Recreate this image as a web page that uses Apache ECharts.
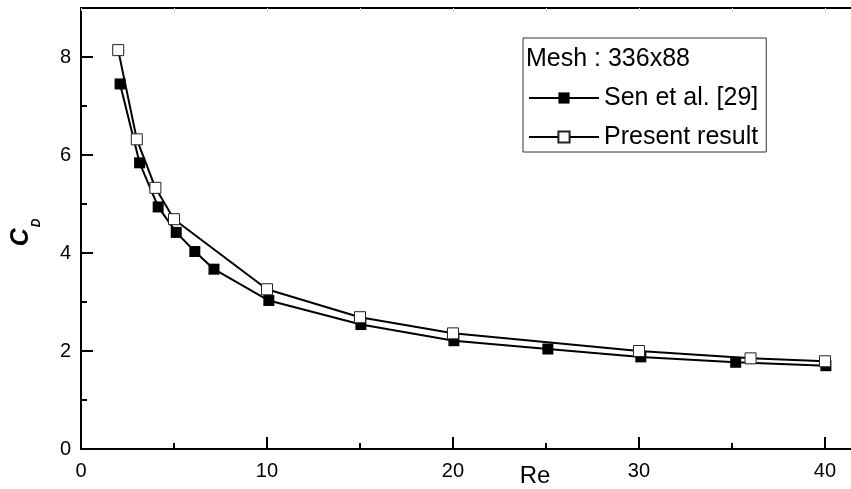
<!DOCTYPE html>
<html>
<head>
<meta charset="utf-8">
<script src="https://cdn.jsdelivr.net/npm/echarts@6/dist/echarts.min.js"></script>
<style>
html,body{margin:0;padding:0;background:#fff;}
#chart{width:851px;height:489px;}
</style>
</head>
<body>
<div id="chart"></div>
<script>
// Data
const seriesNames = ['Sen et al. [29]', 'Present result'];
const legendTitle = 'Mesh : 336x88';
const reSen = [2.1, 3.15, 4.15, 5.12, 6.12, 7.15, 10.1, 15.05, 20.05, 25.1, 30.1, 35.2, 40.05];
const cdSen = [7.45, 5.84, 4.94, 4.42, 4.03, 3.67, 3.03, 2.54, 2.21, 2.04, 1.88, 1.77, 1.70];
const rePresent = [2, 3, 4, 5, 10, 15, 20, 30, 36, 40];
const cdPresent = [8.14, 6.32, 5.33, 4.69, 3.26, 2.69, 2.36, 2.00, 1.85, 1.79];
const xTicks = [0, 10, 20, 30, 40];
const xMinorTicks = [5, 15, 25, 35];
const yTicks = [0, 2, 4, 6, 8];
const yMinorTicks = [1, 3, 5, 7];
const xName = 'Re';

const FONT = '"Liberation Sans", Arial, Helvetica, sans-serif';
const pairs = (xs, ys) => xs.map((x, i) => [x, ys[i]]);

const chart = echarts.init(document.getElementById('chart'), null, {renderer: 'canvas'});
const xMax = 41.4, yMax = 9;
const option = {
  animation: false,
  backgroundColor: '#fff',
  title: {
    text: legendTitle, left: 526, top: 44, padding: 0,
    textStyle: {fontFamily: FONT, fontSize: 25, fontWeight: 'normal', color: '#000', lineHeight: 30}
  },
  legend: {
    orient: 'vertical', left: 523, top: 38, padding: [45, 8, 0, 5],
    itemGap: 9, itemWidth: 70, itemHeight: 14,
    borderColor: '#333', borderWidth: 1, selectedMode: false,
    textStyle: {fontFamily: FONT, fontSize: 25, lineHeight: 30, color: '#000'},
    data: seriesNames
  },
  grid: {left: 81, top: 8, right: 0, bottom: 40, containLabel: false, outerBoundsMode: 'none'},
  xAxis: [
    {
      type: 'value', position: 'bottom', min: 0, max: xMax, interval: 10,
      name: xName, nameLocation: 'middle', nameGap: 15, nameMoveOverlap: false,
      nameTextStyle: {fontFamily: FONT, fontSize: 24, color: '#000', padding: [0, 0, 0, 138]},
      axisLine: {show: true, lineStyle: {color: '#000', width: 2}},
      axisTick: {show: true, inside: true, length: 12, customValues: xTicks, lineStyle: {color: '#000', width: 2}},
      axisLabel: {fontFamily: FONT, fontSize: 20, color: '#000', margin: 12, customValues: xTicks},
      splitLine: {show: false}
    },
    {
      type: 'value', position: 'bottom', min: 0, max: xMax, interval: 5,
      axisLine: {show: false},
      axisTick: {show: true, inside: true, length: 6, customValues: xMinorTicks, lineStyle: {color: '#000', width: 2}},
      axisLabel: {show: false},
      splitLine: {show: false}
    },
    {
      type: 'value', position: 'top', min: 0, max: xMax, interval: 5,
      axisLine: {show: true, lineStyle: {color: '#000', width: 2}},
      axisTick: {show: true, inside: true, length: 3, customValues: xMinorTicks.concat(xTicks), lineStyle: {color: '#ddd', width: 1}},
      axisLabel: {show: false},
      splitLine: {show: false}
    }
  ],
  yAxis: [
    {
      type: 'value', position: 'left', min: 0, max: yMax, interval: 2,
      name: '{c|C}{d|D}', nameLocation: 'middle', nameGap: 47, nameMoveOverlap: false,
      nameTextStyle: {
        color: '#000',
        rich: {
          c: {fontFamily: FONT, fontSize: 25, fontWeight: 'bold', fontStyle: 'italic', color: '#000', lineHeight: 25, verticalAlign: 'top'},
          d: {fontFamily: FONT, fontSize: 12, fontWeight: 'bold', fontStyle: 'italic', color: '#000', lineHeight: 12, verticalAlign: 'top', padding: [22, 8, 0, 1]}
        }
      },
      axisLine: {show: true, lineStyle: {color: '#000', width: 2}},
      axisTick: {show: true, inside: true, length: 12, customValues: yTicks, lineStyle: {color: '#000', width: 2}},
      axisLabel: {fontFamily: FONT, fontSize: 20, color: '#000', margin: 10, customValues: yTicks},
      splitLine: {show: false}
    },
    {
      type: 'value', position: 'left', min: 0, max: yMax, interval: 1,
      axisLine: {show: false},
      axisTick: {show: true, inside: true, length: 6, customValues: yMinorTicks, lineStyle: {color: '#000', width: 2}},
      axisLabel: {show: false},
      splitLine: {show: false}
    }
  ],
  series: [
    {
      name: seriesNames[0], type: 'line', xAxisIndex: 0, yAxisIndex: 0,
      data: pairs(reSen, cdSen),
      symbol: 'rect', symbolSize: 11,
      lineStyle: {color: '#000', width: 2},
      itemStyle: {color: '#000', borderColor: '#000', borderWidth: 0}
    },
    {
      name: seriesNames[1], type: 'line', xAxisIndex: 0, yAxisIndex: 0,
      data: pairs(rePresent, cdPresent),
      symbol: 'rect', symbolSize: 11,
      lineStyle: {color: '#000', width: 2},
      itemStyle: {color: '#fff', borderColor: '#222', borderWidth: 1}
    }
  ]
};
chart.setOption(option);
</script>
</body>
</html>
